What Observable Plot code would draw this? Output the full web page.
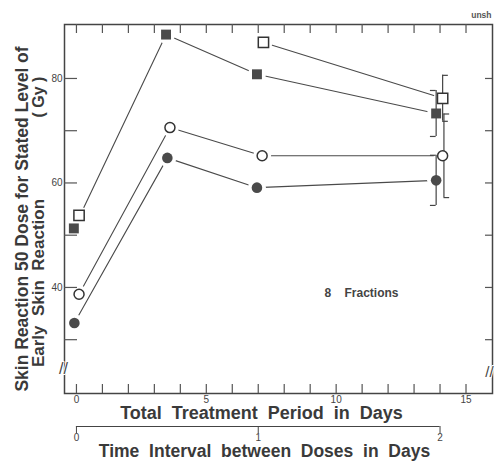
<!DOCTYPE html>
<html><head><meta charset="utf-8">
<script src="https://cdn.jsdelivr.net/npm/d3@7"></script>
<script src="https://cdn.jsdelivr.net/npm/@observablehq/plot@0.6"></script>
<style>
body{margin:0;background:#fff;}
#chart svg{display:block;}
</style></head><body><div id="chart"></div>
<script>
// ---- data (x = total treatment period, days; y = dose, Gy)
const filledSquareX = [-0.1, 3.45, 6.95, 13.85];
const filledSquareY = [51.3, 88.4, 80.8, 73.3];
const openSquareX   = [0.1, 7.2, 14.1];
const openSquareY   = [53.8, 86.9, 76.2];
const openSquareLinked = [false, true, true];
const openCircleX   = [0.1, 3.6, 7.15, 14.1];
const openCircleY   = [38.7, 70.6, 65.2, 65.2];
const filledCircleX = [-0.08, 3.5, 6.95, 13.85];
const filledCircleY = [33.2, 64.8, 59.1, 60.5];

// error bars at 14 days
const errSeries = ["openSquare", "filledSquare", "openCircle", "filledCircle"];
const errX    = [14.1, 13.85, 14.15, 13.85];
const errLow  = [71.8, 68.9, 57.2, 55.7];
const errHigh = [80.6, 77.7, 73.2, 65.3];

// ticks and labels
const xLabelTicks = [0, 5, 10, 15];
const xMinorTicks = d3.range(0, 16);
const yLabelTicks = [40, 60, 80];
const yMinorTicks = [30, 40, 50, 60, 70, 80];
const fractions = 8;
const intervalTicks = [0, 1, 2];
const xTitle = "Total\u00a0 Treatment\u00a0 Period\u00a0 in\u00a0 Days";
const x2Title = "Time\u00a0 Interval\u00a0 between\u00a0 Doses\u00a0 in\u00a0 Days";
const yTitle1 = "Skin Reaction 50 Dose for Stated Level of";
const yTitle2a = "Early\u00a0 Skin\u00a0 Reaction";
const yTitle2b = "(\u00a0Gy\u00a0)";
const annotation = [{x: 9.55, y: 39.0, text: "8\u00a0\u00a0\u00a0\u00a0Fractions"}];
const corner = "unsh";

// ---- build tables
const mk = (series, X, Y, linked) => X.map((x, i) => ({series, x, y: Y[i], linked: linked ? linked[i] : true}));
const filledSq = mk("filledSquare", filledSquareX, filledSquareY);
const openSq = mk("openSquare", openSquareX, openSquareY, openSquareLinked);
const openCi = mk("openCircle", openCircleX, openCircleY);
const filledCi = mk("filledCircle", filledCircleX, filledCircleY);
const allPts = [...filledSq, ...openSq, ...openCi, ...filledCi];
const linePts = allPts.filter(d => d.linked);
const errs = errSeries.map((s, i) => ({series: s, x: errX[i], low: errLow[i], high: errHigh[i], dir: s.startsWith("open") ? 1 : -1}));

const ink = "#3a3a3a";
const lineCol = "#4a4a4a";
const font = "'Liberation Sans', Arial, Helvetica, sans-serif";
const xDomain = [-0.46, 16.02];
const W = 494, H1 = 420, H2 = 42;
const mL = 64, mR = 2, mT = 24, mB = 27;
const frameW = W - mL - mR, frameH = H1 - mT - mB;

const title = (t, o) => Plot.text([t], {text: d => d, textAnchor: "middle", lineAnchor: "middle", fontWeight: "bold", fill: ink, ...o});

const main = Plot.plot({
  width: W, height: H1,
  marginTop: mT, marginBottom: mB, marginLeft: mL, marginRight: mR,
  style: {fontFamily: font, background: "white", color: ink, overflow: "visible"},
  x: {domain: xDomain},
  y: {domain: [19.7, 90.33]},
  marks: [
    Plot.line(linePts, {x: "x", y: "y", z: "series", stroke: lineCol, strokeWidth: 1.1}),
    Plot.dot(allPts, {x: "x", y: "y", r: 9, fill: "white", stroke: null}),
    Plot.frame({stroke: "#444", strokeWidth: 1.5}),
    Plot.tickX(xMinorTicks, {x: d => d, insetTop: frameH - 9, stroke: "#555", strokeWidth: 1.2}),
    Plot.tickX(xMinorTicks, {x: d => d, insetBottom: frameH - 9, stroke: "#555", strokeWidth: 1.2}),
    Plot.tickY(yMinorTicks, {y: d => d, insetRight: frameW - 13, stroke: "#555", strokeWidth: 1.2}),
    Plot.tickY(yMinorTicks, {y: d => d, insetLeft: frameW - 7, stroke: "#555", strokeWidth: 1.2}),
    Plot.axisX(xLabelTicks, {tickSize: 0, tickPadding: 2, fontSize: 10, label: null, fill: "#444"}),
    Plot.axisY(yLabelTicks, {tickSize: 0, tickPadding: 2, fontSize: 10, label: null, fill: "#444"}),
    // error bars
    Plot.ruleX(errs, {x: "x", y1: "low", y2: "high", stroke: "#444", strokeWidth: 1.2}),
    Plot.ruleY(errs, {y: "high", x1: "x", x2: d => d.x + d.dir * 0.22, stroke: "#444", strokeWidth: 1.2}),
    Plot.ruleY(errs, {y: "low", x1: "x", x2: d => d.x + d.dir * 0.22, stroke: "#444", strokeWidth: 1.2}),
    // markers
    Plot.dot(filledSq, {x: "x", y: "y", symbol: "square", r: 5.6, fill: "#4a4a4a", stroke: null}),
    Plot.dot(openSq, {x: "x", y: "y", symbol: "square", r: 5.8, fill: "white", stroke: "#333", strokeWidth: 1.5}),
    Plot.dot(openCi, {x: "x", y: "y", symbol: "circle", r: 5, fill: "white", stroke: "#333", strokeWidth: 1.5}),
    Plot.dot(filledCi, {x: "x", y: "y", symbol: "circle", r: 5.3, fill: "#4a4a4a", stroke: null}),
    // annotations
    Plot.text(annotation, {x: "x", y: "y", text: "text", textAnchor: "start", fontSize: 12, fontWeight: "bold", fill: "#444"}),
    Plot.text([corner], {text: d => d, frameAnchor: "top-right", dy: -9, dx: -1, textAnchor: "end", lineAnchor: "middle", fontSize: 8.5, fontWeight: "bold", fill: "#555"}),
    // axis breaks
    Plot.text(["//"], {text: d => d, frameAnchor: "bottom-left", dy: -25, dx: -1, textAnchor: "middle", lineAnchor: "middle", fontSize: 16, fill: "#444", stroke: "white", strokeWidth: 2, paintOrder: "stroke"}),
    Plot.text(["//"], {text: d => d, frameAnchor: "bottom-right", dy: -21, dx: -3, textAnchor: "middle", lineAnchor: "middle", fontSize: 15, fill: "#444", stroke: "white", strokeWidth: 2, paintOrder: "stroke"}),
    // titles
    title(xTitle, {frameAnchor: "bottom", dy: 20, dx: -17, fontSize: 18}),
    title(yTitle1, {frameAnchor: "left", rotate: -90, dx: -42, dy: 10, fontSize: 17.5}),
    title(yTitle2a, {frameAnchor: "left", rotate: -90, dx: -26, dy: 74, fontSize: 17}),
    title(yTitle2b, {frameAnchor: "left", rotate: -90, dx: -26, dy: -112, fontSize: 16})
  ]
});

const sec = Plot.plot({
  width: W, height: H2,
  marginTop: 0, marginBottom: 36, marginLeft: mL, marginRight: mR,
  style: {fontFamily: font, background: "white", color: ink, overflow: "visible"},
  x: {domain: xDomain.map(d => d / (fractions - 1))},
  y: {domain: [0, 1], axis: null},
  marks: [
    Plot.ruleY([0], {x1: d3.min(intervalTicks), x2: d3.max(intervalTicks), stroke: "#444", strokeWidth: 1.2}),
    Plot.axisX(intervalTicks, {tickSize: 7, tickPadding: 0, fontSize: 10, label: null, tickFormat: d => String(d), fill: "#444", stroke: "#444"}),
    title(x2Title, {frameAnchor: "bottom", dy: 24.5, dx: -14, fontSize: 17.5})
  ]
});

document.getElementById("chart").append(main, sec);
</script>
</body></html>
